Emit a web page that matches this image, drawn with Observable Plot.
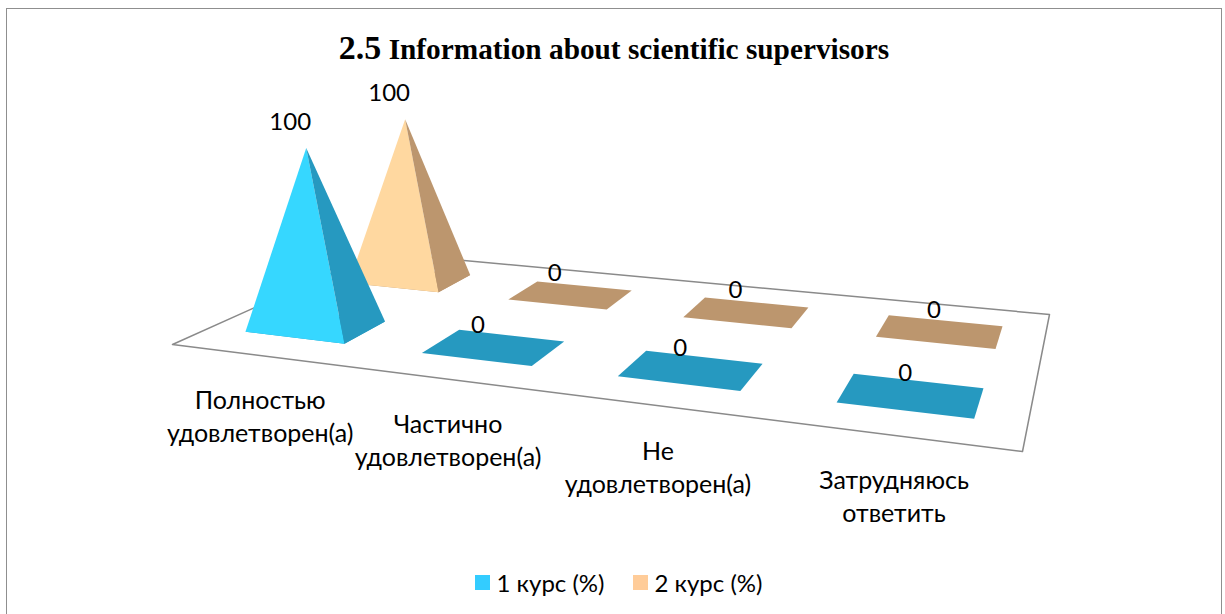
<!DOCTYPE html>
<html>
<head>
<meta charset="utf-8">
<script src="https://cdn.jsdelivr.net/npm/d3@7"></script>
<script src="https://cdn.jsdelivr.net/npm/@observablehq/plot@0.6"></script>
<style>
  html, body { margin: 0; padding: 0; background: #fff; width: 1225px; height: 614px; overflow: hidden; }
  #page { position: relative; width: 1225px; height: 614px; overflow: hidden; }
  #frame { position: absolute; left: 6px; top: 8px; width: 1214px; height: 700px; border: 1.5px solid #8f8f8f; box-sizing: content-box; pointer-events: none; }
  #title { position: relative; height: 75px; margin: 0; box-sizing: border-box; padding-top: 30px; padding-left: 3px; text-align: center; font: bold 29.3px/36px "Liberation Serif", serif; color: #000; white-space: nowrap; }
  #title span { font-size: 34px; }
  #chart svg { display: block; }
  #legend { height: 69px; box-sizing: border-box; padding-top: 6px; display: flex; justify-content: center; gap: 28px; font: 24px/30px Lato, "Noto Sans", sans-serif; color: #000; margin-left: 12px; }
  #legend .item { display: flex; align-items: center; gap: 7px; }
  #legend i { display: block; width: 15px; height: 15px; }
</style>
</head>
<body>
<div id="page">
  <div id="frame"></div>
  <h1 id="title"><span>2.5</span> Information about scientific supervisors</h1>
  <div id="chart"></div>
  <div id="legend"></div>
</div>
<script>
// Data
const categories = ["Полностью\nудовлетворен(а)", "Частично\nудовлетворен(а)", "Не\nудовлетворен(а)", "Затрудняюсь\nответить"];
const seriesNames = ["1 курс (%)", "2 курс (%)"];
const course1 = [100, 0, 0, 0];
const course2 = [100, 0, 0, 0];

// Colours
const legendColors = ["#33CCFF", "#FFCC99"];
const frontColors = ["#36D7FF", "#FFD8A0"];
const sideColors = ["#2699C0", "#BC966E"];

// Camera of the 3-D view: where the floor's corners and the vertical vanishing point fall
const floorCorners = [[172, 344], [1022, 451], [1049, 314], [377, 252]];
const vanishing = [535, 4290];
const risePerUnit = 0.00047;
const nCats = categories.length, nSeries = seriesNames.length;

const [[x0, y0], [x1, y1], [x2, y2], [x3, y3]] = floorCorners;
const dx1 = x1 - x2, dx2 = x3 - x2, sx = x0 - x1 + x2 - x3;
const dy1 = y1 - y2, dy2 = y3 - y2, sy = y0 - y1 + y2 - y3;
const den = dx1 * dy2 - dx2 * dy1;
const g = (sx * dy2 - dx2 * sy) / den, h = (dx1 * sy - sx * dy1) / den;
const a = x1 - x0 + g * x1, b = x3 - x0 + h * x3;
const d = y1 - y0 + g * y1, e = y3 - y0 + h * y3;

function project(u, v, z = 0) {
  const s = u / nCats, t = v / nSeries;
  const w = 1 + g * s + h * t;
  const x = (a * s + b * t + x0) / w, y = (d * s + e * t + y0) / w;
  const k = z * risePerUnit / w;
  return [x - (vanishing[0] - x) * k, y - (vanishing[1] - y) * k];
}

const uGap = 0.213, vGap = 0.3;
const values = [course1, course2];
const faces = [], valueLabels = [];
// Back series first, so the front series paints over it
for (let j = nSeries - 1; j >= 0; --j) {
  values[j].forEach((val, i) => {
    const fl = project(i + uGap, j + vGap), fr = project(i + 1 - uGap, j + vGap);
    const br = project(i + 1 - uGap, j + 1 - vGap), bl = project(i + uGap, j + 1 - vGap);
    const apex = project(i + .5, j + .5, val);
    const add = (name, color, pts) => pts.forEach(p => faces.push({face: `${j}-${i}-${name}`, color, x: p[0], y: p[1]}));
    add("base", sideColors[j], [fl, fr, br, bl]);
    if (val > 0) {
      add("front", frontColors[j], [fl, fr, apex]);
      add("side", sideColors[j], [fr, br, apex]);
    }
    // data labels sit up and to the left of the top of each pyramid
    valueLabels.push({
      x: apex[0] - 16 + 5 * Math.max(0, i - 1),
      y: apex[1] - (val > 0 ? 26 : 21.5),
      text: String(val)
    });
  });
}
const floorPath = [...floorCorners, floorCorners[0]].map(([x, y]) => ({x, y}));
const catLabels = categories.map((text, i) => {
  const [x, y] = project(i + .5, 0);
  return {x, y, text};
});
const font = 'Lato, "Noto Sans", sans-serif';

const plot = Plot.plot({
  width: 1225, height: 470,
  margin: 0,
  x: {domain: [0, 1225], range: [0, 1225], axis: null},
  y: {domain: [75, 545], range: [0, 470], axis: null},
  color: {type: "identity"},
  style: {background: "transparent"},
  marks: [
    Plot.line(floorPath, {x: "x", y: "y", stroke: "#8a8a8a", strokeWidth: 1.5, fill: "#fff"}),
    Plot.line(faces, {x: "x", y: "y", z: "face", fill: "color", stroke: "none"}),
    Plot.text(valueLabels, {x: "x", y: "y", text: "text", fontFamily: font, fontSize: 24, fill: "#000"}),
    Plot.text(catLabels, {
      x: "x", y: "y", text: "text", dx: 1, dy: 60, lineHeight: 1.32,
      fontFamily: font, fontSize: 25, fill: "#000"
    })
  ]
});
document.getElementById("chart").append(plot);

const legend = document.getElementById("legend");
seriesNames.forEach((name, i) => {
  const item = document.createElement("div");
  item.className = "item";
  const sw = document.createElement("i");
  sw.style.background = legendColors[i];
  const label = document.createElement("span");
  label.textContent = name;
  item.append(sw, label);
  legend.append(item);
});
</script>
</body>
</html>
